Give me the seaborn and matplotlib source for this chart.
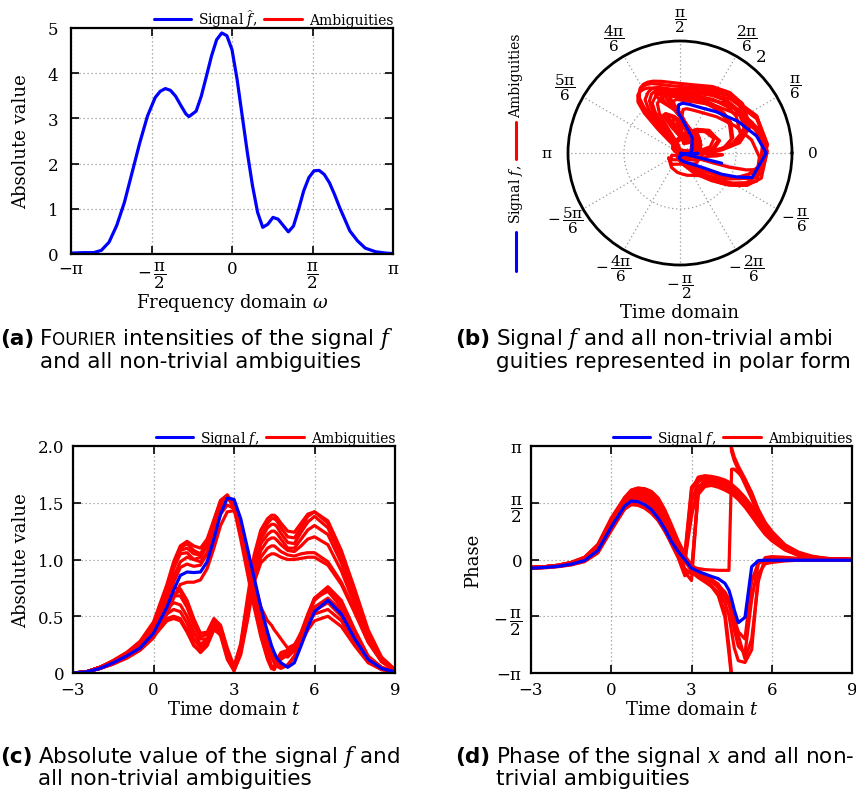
import numpy as np
import pandas as pd
import matplotlib
matplotlib.use("Agg")
import matplotlib.pyplot as plt
import seaborn as sns
from matplotlib.lines import Line2D

# ---------------------------------------------------------------- data
# (a) Fourier intensities
OMEGA = [-3.14, -2.9, -2.7, -2.55, -2.4, -2.25, -2.1, -1.95, -1.8, -1.65, -1.5, -1.4, -1.3,
         -1.2, -1.1, -1.0, -0.9, -0.84, -0.7, -0.6, -0.5, -0.4, -0.3, -0.2, -0.1, 0.0, 0.1,
         0.2, 0.3, 0.4, 0.5, 0.6, 0.7, 0.8, 0.9, 1.0, 1.1, 1.2, 1.3, 1.4, 1.5, 1.6, 1.7,
         1.8, 1.9, 2.0, 2.1, 2.2, 2.3, 2.45, 2.6, 2.8, 3.0, 3.14]
FOURIER_ABS = [0.02, 0.03, 0.03, 0.08, 0.26, 0.63, 1.14, 1.80, 2.46, 3.05, 3.46, 3.60, 3.66,
               3.62, 3.49, 3.29, 3.10, 3.04, 3.16, 3.49, 3.93, 4.38, 4.74, 4.89, 4.83, 4.52, 3.86,
               3.05, 2.24, 1.51, 0.92, 0.59, 0.66, 0.81, 0.77, 0.63, 0.49, 0.62, 0.99, 1.40, 1.69,
               1.84, 1.85, 1.76, 1.58, 1.32, 1.03, 0.77, 0.51, 0.29, 0.13, 0.05, 0.02, 0.01]

# (b)-(d) time domain samples
T = [-3, -2.5, -2, -1.5, -1, -0.5, 0,
     0.5, 0.75, 1, 1.25, 1.5, 1.75, 2, 2.25, 2.5, 2.75,
     3, 3.25, 3.5, 3.75, 4, 4.25,
     4.4, 4.5, 4.6, 4.75,
     5, 5.25, 5.5, 5.75, 6,
     6.5, 7, 7.5, 8, 8.5, 9]

SIG_ABS = [0.00, 0.01, 0.04, 0.09, 0.15, 0.22, 0.35,
           0.58, 0.73, 0.86, 0.89, 0.885, 0.89, 0.98, 1.18, 1.40, 1.54,
           1.53, 1.36, 1.10, 0.84, 0.58, 0.36,
           0.24, 0.18, 0.13, 0.09,
           0.05, 0.09, 0.24, 0.40, 0.54,
           0.64, 0.52, 0.30, 0.12, 0.04, 0.01]
SIG_PHASE = [-0.24, -0.22, -0.19, -0.13, -0.03, 0.25, 0.90,
             1.48, 1.62, 1.60, 1.52, 1.38, 1.15, 0.85, 0.50, 0.22, 0.00,
             -0.24, -0.33, -0.40, -0.47, -0.53, -0.66,
             -0.85, -1.10, -1.40, -1.75,
             -1.60, -0.20, -0.03, -0.02, -0.02,
             -0.02, -0.02, -0.02, -0.02, -0.02, -0.02]

# ambiguities (absolute value, unwrapped phase)
A1_ABS = [0.00, 0.01, 0.05, 0.10, 0.17, 0.25, 0.40,
          0.66, 0.85, 0.98, 1.02, 1.00, 1.02, 1.12, 1.30, 1.48, 1.56,
          1.50, 1.30, 1.02, 0.74, 0.48, 0.27,
          0.16, 0.10, 0.06, 0.04,
          0.07, 0.15, 0.28, 0.42, 0.55,
          0.62, 0.50, 0.29, 0.11, 0.04, 0.01]
A1_PHASE = [-0.22, -0.20, -0.17, -0.10, 0.02, 0.32, 1.00,
            1.58, 1.75, 1.78, 1.72, 1.58, 1.35, 1.02, 0.62, 0.28, 0.02,
            -0.25, -0.36, -0.45, -0.55, -0.68, -0.95,
            -1.20, -1.55, -1.95, -2.40,
            -2.60, -1.10, -0.12, 0.02, 0.03,
            0.02, 0.01, 0.00, 0.00, 0.00, 0.00]

A2_ABS = [0.00, 0.01, 0.05, 0.11, 0.18, 0.28, 0.45,
          0.78, 0.98, 1.12, 1.16, 1.12, 1.10, 1.18, 1.35, 1.52, 1.57,
          1.45, 1.18, 0.88, 0.58, 0.32, 0.12,
          0.04, 0.03, 0.08, 0.15,
          0.18, 0.22, 0.34, 0.50, 0.64,
          0.74, 0.62, 0.36, 0.14, 0.05, 0.01]
A2_PHASE = [-0.22, -0.20, -0.16, -0.08, 0.06, 0.40, 1.10,
            1.70, 1.92, 1.97, 1.95, 1.88, 1.70, 1.35, 0.90, 0.45, 0.10,
            -0.20, -0.40, -0.55, -0.75, -1.00, -1.60,
            -2.60, -3.30, -3.55, -3.80,
            -4.20, -4.60, -5.05, -5.40, -5.65,
            -5.98, -6.15, -6.23, -6.26, -6.27, -6.28]

A3_ABS = [0.00, 0.01, 0.04, 0.09, 0.16, 0.24, 0.38,
          0.70, 0.92, 1.05, 1.06, 1.00, 0.98, 1.06, 1.22, 1.40, 1.48,
          1.45, 1.28, 1.05, 0.80, 0.58, 0.46,
          0.42, 0.38, 0.35, 0.30,
          0.22, 0.25, 0.34, 0.44, 0.52,
          0.56, 0.46, 0.27, 0.10, 0.03, 0.01]
A3_PHASE = [-0.23, -0.21, -0.18, -0.11, 0.00, 0.30, 0.98,
            1.55, 1.72, 1.76, 1.72, 1.62, 1.45, 1.18, 0.80, 0.40, 0.10,
            -0.15, -0.30, -0.45, -0.60, -0.78, -1.05,
            -1.25, -1.45, -1.70, -2.10,
            -2.75, -2.20, -0.60, 0.05, 0.08,
            0.06, 0.03, 0.01, 0.00, 0.00, 0.00]

A4_ABS = [0.00, 0.01, 0.04, 0.08, 0.13, 0.20, 0.31,
          0.52, 0.66, 0.78, 0.80, 0.80, 0.82, 0.92, 1.10, 1.30, 1.42,
          1.43, 1.30, 1.08, 0.82, 0.56, 0.34,
          0.22, 0.16, 0.11, 0.06,
          0.07, 0.14, 0.26, 0.38, 0.46,
          0.50, 0.41, 0.24, 0.09, 0.03, 0.01]
A4_PHASE = [-0.25, -0.23, -0.20, -0.15, -0.06, 0.18, 0.80,
            1.40, 1.52, 1.50, 1.42, 1.28, 1.08, 0.78, 0.45, 0.18, -0.05,
            -0.30, -0.42, -0.52, -0.62, -0.72, -0.90,
            -1.10, -1.35, -1.65, -2.00,
            -2.20, -0.60, -0.08, -0.04, -0.03,
            -0.02, -0.02, -0.02, -0.02, -0.02, -0.02]

A5_ABS = [0.00, 0.01, 0.05, 0.10, 0.17, 0.26, 0.42,
          0.74, 0.95, 1.10, 1.14, 1.08, 1.05, 1.15, 1.34, 1.52, 1.56,
          1.48, 1.22, 0.92, 0.62, 0.34, 0.13,
          0.04, 0.06, 0.12, 0.18,
          0.20, 0.24, 0.36, 0.52, 0.66,
          0.72, 0.58, 0.34, 0.13, 0.04, 0.01]
A5_PHASE = [-0.22, -0.20, -0.17, -0.09, 0.04, 0.36, 1.05,
            1.65, 1.86, 1.90, 1.88, 1.80, 1.62, 1.30, 0.88, 0.45, 0.08,
            -0.20, -0.25, -0.28, -0.29, -0.30, -0.30,
            -0.30, 2.50, 2.50, 2.40,
            2.20, 1.85, 1.35, 0.95, 0.66,
            0.32, 0.13, 0.05, 0.02, 0.01, 0.00]

A6_ABS = [0.00, 0.01, 0.04, 0.09, 0.16, 0.24, 0.37,
          0.62, 0.80, 0.93, 0.96, 0.94, 0.95, 1.05, 1.25, 1.45, 1.55,
          1.52, 1.33, 1.05, 0.75, 0.45, 0.18,
          0.06, 0.05, 0.10, 0.16,
          0.14, 0.20, 0.32, 0.46, 0.58,
          0.66, 0.55, 0.32, 0.12, 0.04, 0.01]
A6_PHASE = [-0.23, -0.21, -0.18, -0.12, -0.01, 0.28, 0.95,
            1.52, 1.68, 1.70, 1.64, 1.50, 1.28, 0.95, 0.58, 0.25, 0.00,
            -0.30, -0.45, -0.58, -0.72, -0.95, -1.45,
            -2.40, -3.20, -3.45, -3.70,
            -4.05, -4.45, -4.90, -5.25, -5.50,
            -5.88, -6.08, -6.19, -6.25, -6.27, -6.28]

A7_ABS = [0.00, 0.01, 0.05, 0.10, 0.17, 0.27, 0.43,
          0.75, 0.96, 1.08, 1.10, 1.05, 1.04, 1.14, 1.32, 1.50, 1.55,
          1.46, 1.22, 0.94, 0.66, 0.42, 0.24,
          0.14, 0.09, 0.08, 0.12,
          0.16, 0.20, 0.32, 0.50, 0.66,
          0.76, 0.64, 0.38, 0.15, 0.05, 0.01]
A7_PHASE = [-0.22, -0.20, -0.16, -0.09, 0.04, 0.38, 1.08,
            1.62, 1.80, 1.84, 1.82, 1.74, 1.55, 1.22, 0.82, 0.42, 0.12,
            -0.35, -0.50, -0.62, -0.75, -0.90, -1.20,
            -1.55, -2.00, -2.45, -2.80,
            -2.85, -2.50, -0.40, -0.12, -0.08,
            -0.04, -0.02, -0.01, -0.01, -0.01, -0.01]

B1_ABS = [0.00, 0.01, 0.05, 0.10, 0.17, 0.25, 0.40,
          0.62, 0.70, 0.72, 0.62, 0.45, 0.32, 0.34, 0.46, 0.40, 0.20,
          0.04, 0.22, 0.60, 0.98, 1.20, 1.32,
          1.36, 1.36, 1.34, 1.28,
          1.20, 1.19, 1.28, 1.38, 1.42,
          1.32, 1.04, 0.68, 0.34, 0.12, 0.03]
B1_PHASE = [-0.22, -0.20, -0.16, -0.09, 0.04, 0.38, 1.10,
            1.68, 1.85, 1.90, 1.88, 1.80, 1.60, 1.25, 0.80, 0.35, -0.10,
            1.60, 2.15, 2.25, 2.25, 2.22, 2.15,
            2.08, 2.02, 1.96, 1.86,
            1.66, 1.42, 1.15, 0.90, 0.68,
            0.36, 0.17, 0.07, 0.03, 0.01, 0.00]

B2_ABS = [0.00, 0.01, 0.04, 0.08, 0.14, 0.21, 0.33,
          0.48, 0.50, 0.48, 0.38, 0.25, 0.18, 0.24, 0.38, 0.34, 0.15,
          0.02, 0.18, 0.50, 0.84, 1.02, 1.10,
          1.12, 1.12, 1.10, 1.07,
          1.04, 1.03, 1.05, 1.06, 1.06,
          0.98, 0.80, 0.55, 0.28, 0.10, 0.02]
B2_PHASE = [-0.24, -0.22, -0.19, -0.13, -0.03, 0.25, 0.88,
            1.45, 1.58, 1.58, 1.52, 1.40, 1.20, 0.90, 0.52, 0.15, -0.35,
            -0.58, 1.85, 2.10, 2.12, 2.08, 1.98,
            1.92, 1.88, 1.82, 1.72,
            1.50, 1.25, 0.98, 0.74, 0.55,
            0.28, 0.12, 0.05, 0.02, 0.01, 0.00]

B3_ABS = [0.00, 0.01, 0.05, 0.09, 0.16, 0.24, 0.37,
          0.56, 0.62, 0.60, 0.50, 0.36, 0.25, 0.30, 0.44, 0.38, 0.18,
          0.05, 0.24, 0.62, 0.94, 1.14, 1.22,
          1.25, 1.25, 1.23, 1.18,
          1.10, 1.10, 1.18, 1.26, 1.30,
          1.22, 0.97, 0.64, 0.32, 0.11, 0.03]
B3_PHASE = [-0.23, -0.21, -0.18, -0.11, 0.00, 0.32, 1.00,
            1.58, 1.76, 1.80, 1.76, 1.66, 1.45, 1.10, 0.68, 0.25, -0.05,
            1.20, 2.00, 2.18, 2.20, 2.15, 2.06,
            2.00, 1.95, 1.88, 1.78,
            1.58, 1.33, 1.06, 0.82, 0.62,
            0.32, 0.15, 0.06, 0.02, 0.01, 0.00]

B4_ABS = [0.00, 0.01, 0.05, 0.10, 0.17, 0.26, 0.41,
          0.60, 0.68, 0.68, 0.58, 0.42, 0.30, 0.30, 0.42, 0.36, 0.14,
          0.03, 0.20, 0.58, 0.96, 1.18, 1.28,
          1.31, 1.31, 1.29, 1.23,
          1.15, 1.14, 1.24, 1.33, 1.38,
          1.28, 1.02, 0.68, 0.35, 0.13, 0.03]
B4_PHASE = [-0.22, -0.20, -0.17, -0.10, 0.02, 0.35, 1.05,
            1.62, 1.82, 1.88, 1.86, 1.78, 1.60, 1.28, 0.88, 0.45, 0.05,
            1.90, 2.28, 2.32, 2.30, 2.26, 2.20,
            2.14, 2.08, 2.02, 1.92,
            1.72, 1.48, 1.20, 0.95, 0.72,
            0.40, 0.19, 0.08, 0.03, 0.01, 0.00]

B5_ABS = [0.00, 0.01, 0.04, 0.09, 0.15, 0.23, 0.35,
          0.52, 0.56, 0.54, 0.44, 0.30, 0.22, 0.27, 0.41, 0.36, 0.16,
          0.03, 0.20, 0.54, 0.88, 1.08, 1.17,
          1.19, 1.19, 1.17, 1.13,
          1.08, 1.07, 1.12, 1.18, 1.20,
          1.13, 0.90, 0.60, 0.30, 0.11, 0.03]
B5_PHASE = [-0.23, -0.21, -0.18, -0.12, -0.01, 0.28, 0.94,
            1.50, 1.66, 1.68, 1.62, 1.50, 1.30, 0.98, 0.58, 0.18, -0.25,
            -0.40, 1.95, 2.15, 2.16, 2.10, 2.02,
            1.96, 1.91, 1.85, 1.75,
            1.55, 1.30, 1.02, 0.78, 0.58,
            0.30, 0.13, 0.05, 0.02, 0.01, 0.00]

B6_ABS = [0.00, 0.01, 0.05, 0.11, 0.18, 0.27, 0.43,
          0.66, 0.75, 0.74, 0.64, 0.48, 0.35, 0.36, 0.48, 0.42, 0.22,
          0.06, 0.26, 0.66, 1.04, 1.26, 1.36,
          1.39, 1.39, 1.37, 1.32,
          1.25, 1.24, 1.32, 1.40, 1.42,
          1.34, 1.08, 0.74, 0.38, 0.14, 0.03]
B6_PHASE = [-0.22, -0.20, -0.16, -0.08, 0.06, 0.42, 1.15,
            1.72, 1.92, 1.98, 1.96, 1.88, 1.70, 1.38, 0.96, 0.52, 0.15,
            2.00, 2.22, 2.26, 2.24, 2.20, 2.12,
            2.06, 2.00, 1.93, 1.82,
            1.62, 1.38, 1.12, 0.88, 0.66,
            0.36, 0.17, 0.07, 0.03, 0.01, 0.00]

B7_ABS = [0.00, 0.01, 0.04, 0.08, 0.14, 0.21, 0.32,
          0.46, 0.48, 0.46, 0.36, 0.24, 0.19, 0.26, 0.40, 0.33, 0.12,
          0.02, 0.16, 0.46, 0.80, 0.97, 1.03,
          1.05, 1.05, 1.04, 1.02,
          1.00, 1.00, 1.01, 1.02, 1.02,
          0.95, 0.78, 0.53, 0.27, 0.10, 0.02]
B7_PHASE = [-0.24, -0.22, -0.19, -0.14, -0.04, 0.22, 0.84,
            1.40, 1.52, 1.52, 1.46, 1.34, 1.14, 0.82, 0.42, 0.05, -0.45,
            -0.30, 1.80, 2.02, 2.05, 2.00, 1.92,
            1.86, 1.82, 1.76, 1.66,
            1.45, 1.20, 0.94, 0.70, 0.52,
            0.26, 0.11, 0.04, 0.02, 0.01, 0.00]

AMBIGUITIES = [
    (A1_ABS, A1_PHASE), (A2_ABS, A2_PHASE), (A3_ABS, A3_PHASE), (A4_ABS, A4_PHASE),
    (A5_ABS, A5_PHASE), (A6_ABS, A6_PHASE), (A7_ABS, A7_PHASE),
    (B1_ABS, B1_PHASE), (B2_ABS, B2_PHASE), (B3_ABS, B3_PHASE), (B4_ABS, B4_PHASE),
    (B5_ABS, B5_PHASE), (B6_ABS, B6_PHASE), (B7_ABS, B7_PHASE),
]

PI = r'\mathrm{\pi}'
POLAR_ANGLES_DEG = [0, 30, 60, 90, 120, 150, 180, 210, 240, 270, 300, 330]
POLAR_LABELS = ['$0$', rf'$\dfrac{{{PI}}}{{6}}$', rf'$\dfrac{{2{PI}}}{{6}}$',
                rf'$\dfrac{{{PI}}}{{2}}$', rf'$\dfrac{{4{PI}}}{{6}}$', rf'$\dfrac{{5{PI}}}{{6}}$',
                rf'${PI}$', rf'$-\,\dfrac{{5{PI}}}{{6}}$', rf'$-\,\dfrac{{4{PI}}}{{6}}$',
                rf'$-\,\dfrac{{{PI}}}{{2}}$', rf'$-\,\dfrac{{2{PI}}}{{6}}$',
                rf'$-\,\dfrac{{{PI}}}{{6}}$']
PI_TICKS = [-np.pi, -np.pi / 2, 0, np.pi / 2, np.pi]
PI_LABELS = [rf'$-{PI}$', rf'$-\,\dfrac{{{PI}}}{{2}}$', '$0$', rf'$\dfrac{{{PI}}}{{2}}$',
             rf'${PI}$']
T_TICKS = [-3, 0, 3, 6, 9]
T_LABELS = ['\u22123', '0', '3', '6', '9']
ABS_TICKS = [0, 0.5, 1.0, 1.5, 2.0]
ABS_LABELS = ['0', '0.5', '1.0', '1.5', '2.0']

for name, arr in [('SIG_ABS', SIG_ABS), ('SIG_PHASE', SIG_PHASE)] + \
        [(f'amb{i}', a) for i, p in enumerate(AMBIGUITIES) for a in p]:
    if len(arr) != len(T):
        raise ValueError(f'{name} has {len(arr)} values, expected {len(T)}')

# ---------------------------------------------------------------- style
sns.set_theme(style='ticks')
plt.rcParams['font.family'] = ['DejaVu Serif']
plt.rcParams['mathtext.fontset'] = 'dejavuserif'
plt.rcParams['axes.unicode_minus'] = True
for key in ('text.color', 'axes.labelcolor', 'xtick.color', 'ytick.color',
            'axes.edgecolor', 'xtick.labelcolor', 'ytick.labelcolor'):
    plt.rcParams[key] = 'black'

BLUE = '#0000ff'
RED = '#ff0000'
LW_SIG = 2.3
LW_AMB = 2.3
TICK_FS = 12
FRAC_FS = 11
LABEL_FS = 13
LEG_FS = 10
CAP_FS = 15.5

W, H = 856, 803
fig = plt.figure(figsize=(W / 100, H / 100), dpi=100, facecolor='white')


def rect(l, t, r, b):
    return [l / W, 1 - b / H, (r - l) / W, (b - t) / H]


def style_cart(ax):
    for s in ax.spines.values():
        s.set_linewidth(1.6)
        s.set_color('black')
        s.set_visible(True)
    ax.tick_params(direction='in', length=6, width=1.2, top=True, right=True,
                   labelsize=TICK_FS, colors='black', pad=6)
    ax.grid(True, linestyle=(0, (1, 2.2)), color='#999999', linewidth=0.9)
    ax.set_axisbelow(True)


def top_legend(ax, sig_label):
    handles = [Line2D([], [], color=BLUE, lw=2.2), Line2D([], [], color=RED, lw=2.2)]
    leg = ax.legend(handles, [sig_label, 'Ambiguities'], ncol=2, frameon=False,
                    loc='lower right', bbox_to_anchor=(1.005, 0.99), fontsize=LEG_FS,
                    handlelength=2.7, handletextpad=0.5, columnspacing=0.5,
                    borderaxespad=0, borderpad=0.1)
    for txt in leg.get_texts():
        txt.set_color('black')


# long-form frames
rows_abs, rows_ph, rows_pol = [], [], []
for k, (a, p) in enumerate(AMBIGUITIES):
    a = np.asarray(a, float)
    p = np.asarray(p, float)
    for t, v, ph in zip(T, a, p):
        rows_abs.append((k, t, v))
        rows_pol.append((k, ph, v))
    # wrapped phase split into segments that leave/enter through the frame
    wr = (p + np.pi) % (2 * np.pi) - np.pi
    seg = 0
    for i in range(len(T)):
        if i > 0 and abs(wr[i] - wr[i - 1]) > np.pi:
            rows_ph.append((f'{k}_{seg}', T[i], wr[i - 1] + (p[i] - p[i - 1])))
            seg += 1
            rows_ph.append((f'{k}_{seg}', T[i - 1], wr[i] - (p[i] - p[i - 1])))
        rows_ph.append((f'{k}_{seg}', T[i], wr[i]))
df_abs = pd.DataFrame(rows_abs, columns=['curve', 't', 'v'])
df_ph = pd.DataFrame(rows_ph, columns=['curve', 't', 'v'])
df_pol = pd.DataFrame(rows_pol, columns=['curve', 'theta', 'r'])
df_sig = pd.DataFrame({'t': T, 'abs': SIG_ABS, 'phase': SIG_PHASE})
df_four = pd.DataFrame({'w': OMEGA, 'v': FOURIER_ABS})

# ---------------------------------------------------------------- (a)
ax_a = fig.add_axes(rect(71, 29, 393, 255))
sns.lineplot(data=df_four, x='w', y='v', color=BLUE, lw=LW_SIG, ax=ax_a, sort=False)
ax_a.set_xlim(-np.pi, np.pi)
ax_a.set_ylim(0, 5)
ax_a.set_xticks(PI_TICKS)
ax_a.set_xticklabels(PI_LABELS, fontsize=FRAC_FS)
ax_a.set_yticks([0, 1, 2, 3, 4, 5])
ax_a.set_yticklabels(['0', '1', '2', '3', '4', '5'])
style_cart(ax_a)
ax_a.tick_params(axis='y', pad=9)
ax_a.tick_params(axis='x', pad=4)
ax_a.set_xlabel(r'Frequency domain $\omega$', fontsize=LABEL_FS, labelpad=1)
ax_a.set_ylabel('Absolute value', fontsize=LABEL_FS, labelpad=13)
top_legend(ax_a, r'Signal $\widehat{f}$,')

# ---------------------------------------------------------------- (c)
ax_c = fig.add_axes(rect(73, 447, 395, 674))
sns.lineplot(data=df_abs, x='t', y='v', units='curve', estimator=None, color=RED,
             lw=LW_AMB, ax=ax_c, sort=False)
sns.lineplot(data=df_sig, x='t', y='abs', color=BLUE, lw=LW_SIG, ax=ax_c, sort=False)
ax_c.set_xlim(-3, 9)
ax_c.set_ylim(0, 2)
ax_c.set_xticks(T_TICKS)
ax_c.set_xticklabels(T_LABELS)
ax_c.set_yticks(ABS_TICKS)
ax_c.set_yticklabels(ABS_LABELS)
style_cart(ax_c)
ax_c.set_xlabel(r'Time domain $t$', fontsize=LABEL_FS, labelpad=1)
ax_c.set_ylabel('Absolute value', fontsize=LABEL_FS, labelpad=6)
top_legend(ax_c, r'Signal $f$,')

# ---------------------------------------------------------------- (d)
ax_d = fig.add_axes(rect(531, 447, 852, 674))
sns.lineplot(data=df_ph, x='t', y='v', units='curve', estimator=None, color=RED,
             lw=LW_AMB, ax=ax_d, sort=False)
sns.lineplot(data=df_sig, x='t', y='phase', color=BLUE, lw=LW_SIG, ax=ax_d, sort=False)
ax_d.set_xlim(-3, 9)
ax_d.set_ylim(-np.pi, np.pi)
ax_d.set_xticks(T_TICKS)
ax_d.set_xticklabels(T_LABELS)
ax_d.set_yticks(PI_TICKS)
ax_d.set_yticklabels(PI_LABELS, fontsize=FRAC_FS)
style_cart(ax_d)
ax_d.set_xlabel(r'Time domain $t$', fontsize=LABEL_FS, labelpad=1)
ax_d.set_ylabel('Phase', fontsize=LABEL_FS, labelpad=8)
top_legend(ax_d, r'Signal $f$,')

# ---------------------------------------------------------------- (b) polar
ax_b = fig.add_axes(rect(568, 42, 792, 266), projection='polar')
sns.lineplot(data=df_pol, x='theta', y='r', units='curve', estimator=None, color=RED,
             lw=LW_AMB, ax=ax_b, sort=False)
sns.lineplot(x=SIG_PHASE, y=SIG_ABS, color=BLUE, lw=LW_SIG, ax=ax_b, sort=False)
ax_b.set_ylim(0, 2)
ax_b.set_rgrids([1, 2], labels=['', ''])
ax_b.set_thetagrids(POLAR_ANGLES_DEG, POLAR_LABELS, fontsize=FRAC_FS)
ax_b.set_xlabel('')
ax_b.set_ylabel('')
ax_b.grid(True, linestyle=(0, (1, 2.2)), color='#999999', linewidth=0.9)
ax_b.spines['polar'].set_linewidth(2.0)
ax_b.spines['polar'].set_color('black')
ax_b.tick_params(axis='x', pad=8, direction='in', length=7, width=1.4, color='black')
ax_b.text(np.deg2rad(52), 1.27, '1', fontsize=TICK_FS, ha='center', va='center', zorder=0)
ax_b.text(np.deg2rad(50), 2.25, '2', fontsize=TICK_FS, ha='center', va='center')
fig.text(680 / W, 1 - 313 / H, 'Time domain', fontsize=LABEL_FS, ha='center', va='center')

# vertical legend for (b)
fig.add_artist(Line2D([516 / W, 516 / W], [1 - 272 / H, 1 - 233 / H], color=BLUE, lw=2.2))
fig.add_artist(Line2D([516 / W, 516 / W], [1 - 160 / H, 1 - 123 / H], color=RED, lw=2.2))
fig.text(516 / W, 1 - 194 / H, r'Signal $f$,', rotation=90, fontsize=LEG_FS,
         ha='center', va='center')
fig.text(516 / W, 1 - 76 / H, 'Ambiguities', rotation=90, fontsize=LEG_FS,
         ha='center', va='center')

# ---------------------------------------------------------------- captions
cap_ax = fig.add_axes([0, 0, 1, 1], frameon=False, zorder=-5)
cap_ax.set_axis_off()
CAP_FONT = ['DejaVu Sans']


def caption(x_px, y1_px, y2_px, label, parts, line2):
    y1 = 1 - y1_px / H
    first = cap_ax.text(x_px / W, y1, label, transform=fig.transFigure, fontsize=CAP_FS,
                        family=CAP_FONT, fontweight='bold', ha='left', va='baseline',
                        color='black')
    prev = first
    start = None
    for i, (txt, scale) in enumerate(parts):
        ann = cap_ax.annotate(txt, xy=(1, y1), xycoords=(prev, 'figure fraction'),
                              xytext=((4 if i == 0 else 0), 0), textcoords='offset points',
                              fontsize=CAP_FS * scale, family=CAP_FONT,
                              ha='left', va='baseline', color='black')
        if start is None:
            start = ann
        prev = ann
    cap_ax.annotate(line2, xy=(0, 1 - y2_px / H), xycoords=(start, 'figure fraction'),
                    fontsize=CAP_FS, family=CAP_FONT, ha='left', va='baseline',
                    color='black')


caption(0, 345, 368, '(a)', [('F', 1.0), ('OURIER', 0.78),
                             (r' intensities of the signal $f$', 1.0)],
        'and all non-trivial ambiguities')
caption(455, 345, 368, '(b)', [(r'Signal $f$ and all non-trivial ambi', 1.0)],
        'guities represented in polar form')
caption(0, 763, 785, '(c)', [(r'Absolute value of the signal $f$ and', 1.0)],
        'all non-trivial ambiguities')
caption(455, 763, 785, '(d)', [(r'Phase of the signal $x$ and all non-', 1.0)],
        'trivial ambiguities')

fig.savefig('out.png', dpi=100, facecolor='white')
